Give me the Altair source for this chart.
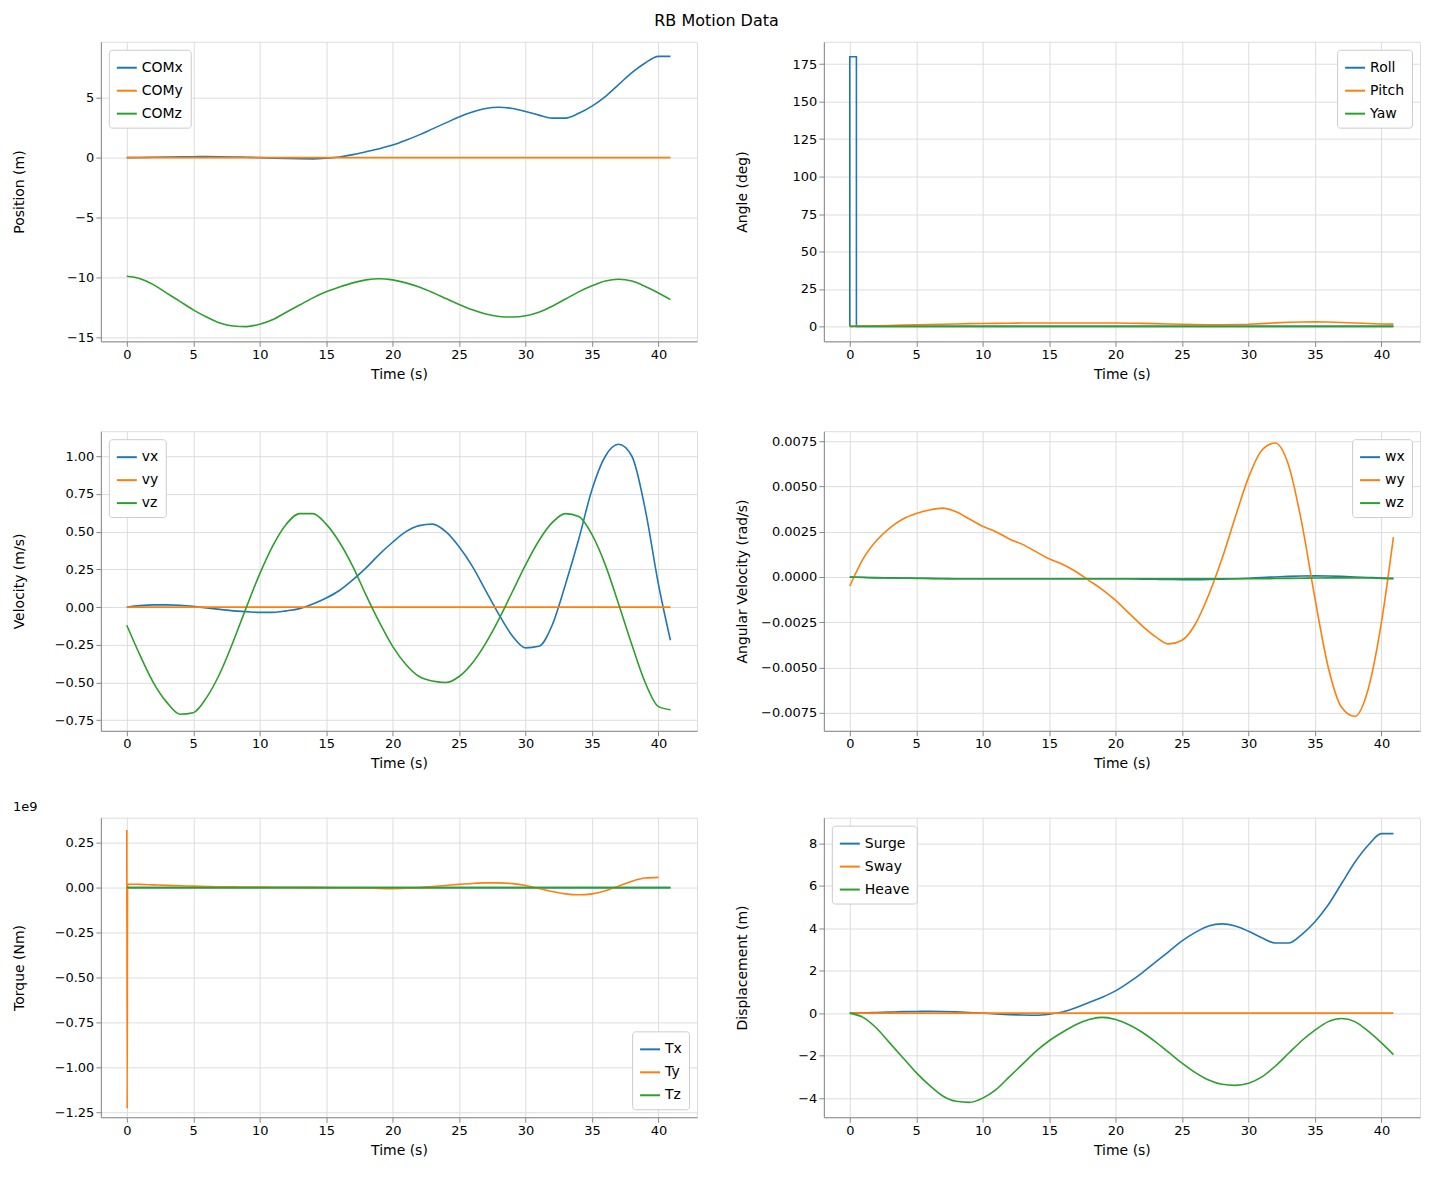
import altair as alt
import pandas as pd

T = list(range(41)) + [40.9]

COMx = [0, 0.01, 0.03, 0.05, 0.07, 0.08, 0.09, 0.08, 0.06, 0.03, 0, -0.04, -0.07, -0.09, -0.1, -0.05,
        0.05, 0.25, 0.5, 0.75, 1.05, 1.45, 1.9, 2.4, 2.9, 3.4, 3.8, 4.1, 4.2, 4.1, 3.85, 3.55, 3.3,
        3.3, 3.7, 4.3, 5.1, 6.1, 7.1, 7.9, 8.45, 8.45]
COMy = [0.0] * 42
COMz = [-9.9, -10.1, -10.6, -11.3, -12.0, -12.7, -13.3, -13.8, -14.05, -14.1, -13.9, -13.5, -12.9,
        -12.3, -11.7, -11.2, -10.8, -10.45, -10.2, -10.1, -10.2, -10.45, -10.8, -11.25, -11.75,
        -12.25, -12.7, -13.05, -13.25, -13.3, -13.2, -12.9, -12.4, -11.8, -11.2, -10.7, -10.3,
        -10.15, -10.3, -10.75, -11.3, -11.85]

roll_t = [0, 0, 0.5, 0.5, 40.9]
roll = [0, 180, 180, 0, 0]
pitch = [0, 0.2, 0.4, 0.6, 0.8, 1.0, 1.2, 1.4, 1.6, 1.8, 1.9, 2.0, 2.1, 2.2, 2.2, 2.2, 2.2, 2.2, 2.2,
         2.2, 2.2, 2.1, 2.0, 1.8, 1.6, 1.4, 1.2, 1.1, 1.1, 1.2, 1.4, 1.8, 2.3, 2.7, 2.9, 3.0, 2.9,
         2.6, 2.2, 1.9, 1.6, 1.5]
yaw = [0.0] * 42

vx = [0, 0.01, 0.015, 0.015, 0.012, 0.005, -0.005, -0.015, -0.025, -0.03, -0.035, -0.035, -0.025,
      -0.01, 0.02, 0.06, 0.11, 0.18, 0.26, 0.35, 0.43, 0.5, 0.54, 0.55, 0.5, 0.4, 0.27, 0.11, -0.05,
      -0.19, -0.27, -0.26, -0.12, 0.15, 0.45, 0.78, 1.0, 1.08, 1.0, 0.65, 0.15, -0.22]
vy = [0.0] * 42
vz = [-0.12, -0.32, -0.5, -0.63, -0.71, -0.7, -0.6, -0.44, -0.23, 0, 0.22, 0.41, 0.55, 0.62, 0.62,
      0.55, 0.43, 0.27, 0.08, -0.1, -0.26, -0.38, -0.46, -0.49, -0.5, -0.46, -0.37, -0.24, -0.08,
      0.1, 0.28, 0.44, 0.56, 0.62, 0.6, 0.48, 0.28, 0.02, -0.25, -0.5, -0.66, -0.68]

wx = [0, -0.00002, -0.00004, -0.00005, -0.00006, -0.00007, -0.00008, -0.00009, -0.0001, -0.0001,
      -0.0001, -0.0001, -0.0001, -0.0001, -0.0001, -0.0001, -0.0001, -0.0001, -0.0001, -0.0001,
      -0.0001, -0.0001, -0.00012, -0.00013, -0.00014, -0.00015, -0.00015, -0.00014, -0.00012,
      -0.0001, -0.00007, -0.00003, 0, 0.00003, 0.00005, 0.00006, 0.00005, 0.00003, 0, -0.00003,
      -0.00006, -0.00008]
wy = [-0.0005, 0.001, 0.002, 0.0027, 0.0032, 0.0035, 0.0037, 0.0038, 0.0036, 0.0032, 0.0028, 0.0025,
      0.0021, 0.0018, 0.0014, 0.001, 0.0007, 0.0003, -0.0002, -0.0007, -0.0013, -0.002, -0.0027,
      -0.0033, -0.0037, -0.0035, -0.0026, -0.001, 0.001, 0.0033, 0.0055, 0.007, 0.0074, 0.0062,
      0.003, -0.0012, -0.005, -0.0072, -0.0077, -0.0062, -0.0025, 0.0022]
wz = [0, -0.00003, -0.00005, -0.00006, -0.00007, -0.00008, -0.00009, -0.0001, -0.0001, -0.0001,
      -0.0001, -0.0001, -0.0001, -0.0001, -0.0001, -0.0001, -0.0001, -0.0001, -0.0001, -0.0001,
      -0.0001, -0.0001, -0.0001, -0.0001, -0.0001, -0.0001, -0.0001, -0.0001, -0.0001, -0.0001,
      -0.0001, -0.0001, -0.00009, -0.00008, -0.00007, -0.00006, -0.00005, -0.00005, -0.00005,
      -0.00006, -0.00008, -0.0001]

# torque in units of 1e9 Nm
Tx = [0.0] * 42
Ty_t = [0, 0.03, 0.06] + T[1:]
Ty = [0.32, -1.23, 0.02, 0.018, 0.015, 0.012, 0.01, 0.008, 0.006, 0.004, 0.004, 0.003, 0.003, 0.002,
      0.002, 0.001, 0.001, 0, -0.001, -0.002, -0.003, -0.005, -0.006, -0.004, 0, 0.006, 0.012, 0.018,
      0.023, 0.026, 0.026, 0.022, 0.012, -0.005, -0.022, -0.035, -0.04, -0.035, -0.018, 0.008,
      0.035, 0.053, 0.057]
Tz = [0.0] * 42

surge = COMx
sway = [0.0] * 42
heave = [0, -0.2, -0.7, -1.4, -2.1, -2.8, -3.4, -3.9, -4.15, -4.2, -4.0, -3.6, -3.0, -2.4, -1.8, -1.3,
         -0.9, -0.55, -0.3, -0.2, -0.3, -0.55, -0.9, -1.35, -1.85, -2.35, -2.8, -3.15, -3.35, -3.4,
         -3.3, -3.0, -2.5, -1.9, -1.3, -0.8, -0.4, -0.25, -0.4, -0.85, -1.4, -1.95]

COLORS = ["#1f77b4", "#ff7f0e", "#2ca02c"]
FONT = "DejaVu Sans"


def frame(series):
    rows = []
    for name, ts, vs in series:
        for i, (t, v) in enumerate(zip(ts, vs)):
            rows.append({"t": t, "v": v, "s": name, "o": i})
    return pd.DataFrame(rows)


def axis(title, values, fmt, **kw):
    return alt.Axis(values=values, format=fmt, title=title, titleFontWeight="normal",
                    titleFont=FONT, labelFont=FONT, labelFontSize=13, titleFontSize=14,
                    titlePadding=6, labelColor="black", titleColor="black", **kw)


def panel(series, ylabel, domain, ticks, orient, fmt, interp="monotone", title=None):
    names = [s[0] for s in series]
    c = (
        alt.Chart(frame(series))
        .mark_line(strokeWidth=1.6, clip=True, interpolate=interp)
        .encode(
            x=alt.X("t:Q", scale=alt.Scale(domain=[-1.95, 42.9], nice=False, zero=False),
                    axis=axis("Time (s)", list(range(0, 45, 5)), "d")),
            y=alt.Y("v:Q", scale=alt.Scale(domain=domain, nice=False, zero=False),
                    axis=axis(ylabel, ticks, fmt, minExtent=68, maxExtent=68)),
            color=alt.Color("s:N", sort=names,
                            scale=alt.Scale(domain=names, range=COLORS),
                            legend=alt.Legend(orient=orient, title=None, fillColor="white",
                                              strokeColor="#cccccc", padding=7, cornerRadius=3,
                                              symbolType="stroke", symbolStrokeWidth=2,
                                              symbolSize=400, labelFontSize=14, offset=8,
                                              rowPadding=5, labelFont=FONT, labelColor="black")),
            detail="s:N",
            order="o:Q",
        )
        .properties(width=597, height=300)
    )
    if title:
        c = c.properties(title=alt.TitleParams(title, anchor="start", fontSize=13,
                                               fontWeight="normal", font=FONT, offset=4))
    return c


p1 = panel([("COMx", T, COMx), ("COMy", T, COMy), ("COMz", T, COMz)], "Position (m)",
           [-15.33, 9.67], [-15, -10, -5, 0, 5], "top-left", "d")
p2 = panel([("Roll", roll_t, roll), ("Pitch", T, pitch), ("Yaw", T, yaw)], "Angle (deg)",
           [-10, 190], list(range(0, 176, 25)), "top-right", "d", interp="linear")
p3 = panel([("vx", T, vx), ("vy", T, vy), ("vz", T, vz)], "Velocity (m/s)",
           [-0.82, 1.166], [-0.75, -0.5, -0.25, 0, 0.25, 0.5, 0.75, 1.0], "top-left", ".2f")
p4 = panel([("wx", T, wx), ("wy", T, wy), ("wz", T, wz)], "Angular Velocity (rad/s)",
           [-0.0085, 0.00805], [-0.0075, -0.005, -0.0025, 0, 0.0025, 0.005, 0.0075], "top-right", ".4f")
p5 = panel([("Tx", T, Tx), ("Ty", Ty_t, Ty), ("Tz", T, Tz)], "Torque (Nm)",
           [-1.278, 0.389], [-1.25, -1.0, -0.75, -0.5, -0.25, 0, 0.25], "bottom-right", ".2f",
           title="1e9")
p6 = panel([("Surge", T, surge), ("Sway", T, sway), ("Heave", T, heave)], "Displacement (m)",
           [-4.9, 9.2], [-4, -2, 0, 2, 4, 6, 8], "top-left", "d")


def row(a, b):
    return alt.hconcat(a, b, spacing=37).resolve_scale(color="independent")


lower = alt.vconcat(row(p3, p4), row(p5, p6), spacing=28).resolve_scale(color="independent")

chart = (
    alt.vconcat(row(p1, p2), lower, spacing=48)
    .resolve_scale(color="independent")
    .properties(title=alt.TitleParams("RB Motion Data", anchor="middle", fontSize=16,
                                      fontWeight="normal", font=FONT, offset=12),
                padding={"left": 4, "top": 4, "right": 0, "bottom": 5})
    .configure_view(stroke="black", strokeWidth=1)
    .configure_axis(gridColor="#b0b0b0", gridWidth=1, domain=False, tickColor="black",
                    tickSize=5, labelPadding=3)
    .configure(background="white")
)

chart.save("out.html", embed_options={"renderer": "svg", "actions": False})
